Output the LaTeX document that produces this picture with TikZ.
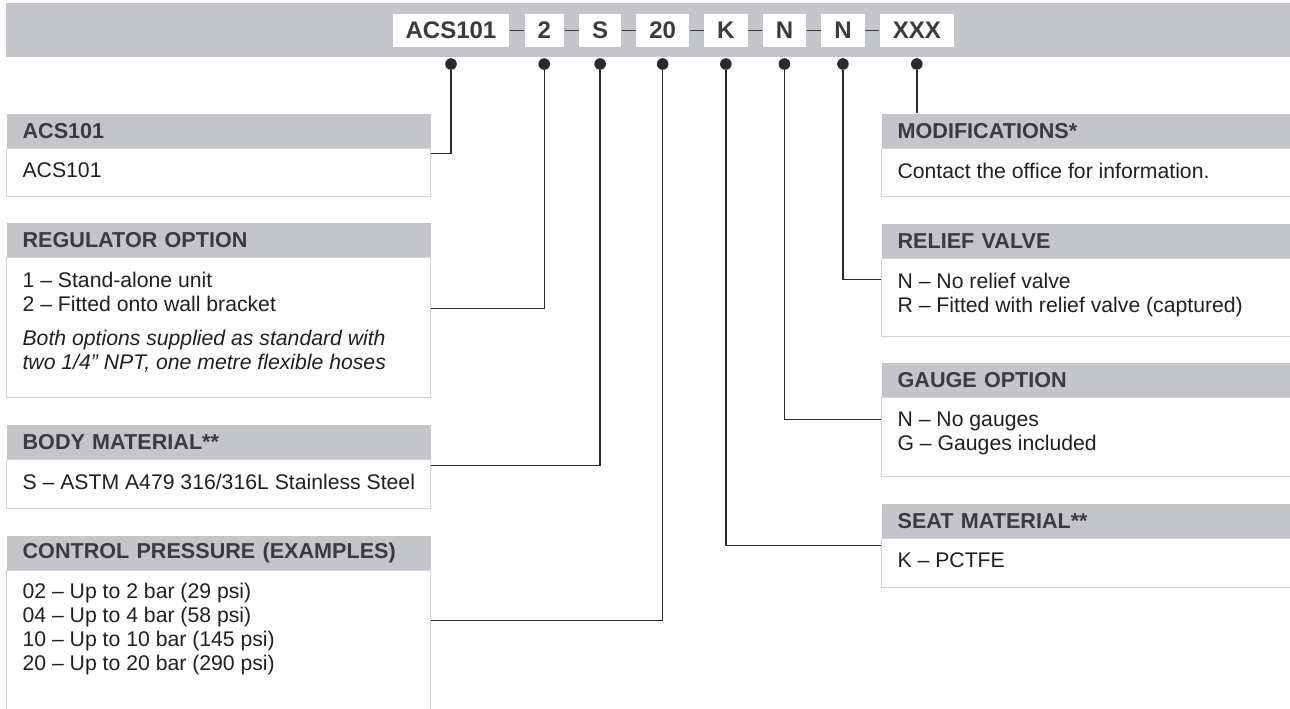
\documentclass[tikz,border=0pt]{standalone}
\usepackage{fontspec}
\setmainfont{Liberation Sans}
\usetikzlibrary{positioning}

\definecolor{bargray}{HTML}{C4C5C9}
\definecolor{linegray}{HTML}{D2D3D5}
\definecolor{headink}{HTML}{3A3A3F}
\definecolor{bodyink}{HTML}{231F20}
\definecolor{wireink}{HTML}{2A2A2D}

\begin{document}
\begin{tikzpicture}[x=0.5pt,y=-0.5pt,node distance=7pt,semithick]
        \tikzstyle{code}=[fill=white, text=headink, font=\fontsize{12}{12}\selectfont\bfseries, minimum height=16.5pt, inner xsep=6.5pt, inner ysep=0pt]
        \tikzstyle{head}=[fill=bargray, text=headink, font=\fontsize{10.8}{12}\selectfont\bfseries, anchor=north west, minimum width=212pt, minimum height=17pt, text width=196pt, inner xsep=8pt, inner ysep=0pt, align=left]
        \tikzstyle{box}=[draw=linegray, line width=0.6pt, fill=white, minimum width=212pt, inner sep=0pt]
        \tikzstyle{item}=[text=bodyink, font=\fontsize{10.6}{12}\selectfont, anchor=north west, align=left, inner xsep=8pt, inner ysep=0pt]
        \tikzstyle{dot}=[circle, fill=wireink, inner sep=0pt, minimum size=5.8pt]
        \tikzstyle{lead}=[draw=wireink, line width=0.7pt]
        \tikzstyle{hyphen}=[draw=headink, line width=0.9pt]

        \useasboundingbox (0,0) rectangle (1290,708);
        \clip (0,0) rectangle (1290,708);
        \fill[bargray] (6,3) rectangle (1290,57);

        % ordering code
        \node[code]                (acs)  at (451,30.5) {ACS101};
        \node[code, right=of acs]  (opt)  {2};
        \node[code, right=of opt]  (mat)  {S};
        \node[code, right=of mat]  (prs)  {20};
        \node[code, right=of prs]  (seat) {K};
        \node[code, right=of seat] (gau)  {N};
        \node[code, right=of gau]  (rel)  {N};
        \node[code, right=of rel]  (mod)  {XXX};

        \foreach \a/\b in {acs/opt,opt/mat,mat/prs,prs/seat,seat/gau,gau/rel,rel/mod}
            \draw[hyphen] (\a) -- (\b);
        \foreach \n in {acs,opt,mat,prs,seat,gau,rel,mod}
            \node[dot, below=5pt of \n] (\n-dot) {};

        % left column
        \node[head] (acshead) at (6,113) {ACS101};
        \node[box, below=0pt of acshead, minimum height=24pt] (acsbox) {};
        \node[item] at ([yshift=-7pt]acsbox.north west) {ACS101};

        \node[head] (reghead) at (6,222) {REGULATOR OPTION};
        \node[box, below=0pt of reghead, minimum height=70pt] (regbox) {};
        \node[item] at ([yshift=-7pt]regbox.north west) {1 -- Stand-alone unit\\2 -- Fitted onto wall bracket\\[5pt]\itshape Both options supplied as standard with\\\itshape two 1/4” NPT, one metre flexible hoses};

        \node[head] (mathead) at (6,424) {BODY MATERIAL**};
        \node[box, below=0pt of mathead, minimum height=24.5pt] (matbox) {};
        \node[item] at ([yshift=-7pt]matbox.north west) {S -- ASTM A479 316/316L Stainless Steel};

        \node[head] (prshead) at (6,535) {CONTROL PRESSURE (EXAMPLES)};
        \node[box, below=0pt of prshead, minimum height=80pt] (prsbox) {};
        \node[item] at ([yshift=-6pt]prsbox.north west) {02 -- Up to 2 bar (29 psi)\\04 -- Up to 4 bar (58 psi)\\10 -- Up to 10 bar (145 psi)\\20 -- Up to 20 bar (290 psi)};

        % right column
        \node[head] (modhead) at (881,113) {MODIFICATIONS*};
        \node[box, below=0pt of modhead, minimum height=24pt] (modbox) {};
        \node[item] at ([yshift=-7pt]modbox.north west) {Contact the office for information.};

        \node[head] (relhead) at (881,223) {RELIEF VALVE};
        \node[box, below=0pt of relhead, minimum height=39pt] (relbox) {};
        \node[item] at ([yshift=-7pt]relbox.north west) {N -- No relief valve\\R -- Fitted with relief valve (captured)};

        \node[head] (gauhead) at (881,362) {GAUGE OPTION};
        \node[box, below=0pt of gauhead, minimum height=39.5pt] (gaubox) {};
        \node[item] at ([yshift=-7pt]gaubox.north west) {N -- No gauges\\G -- Gauges included};

        \node[head] (seathead) at (881,503) {SEAT MATERIAL**};
        \node[box, below=0pt of seathead, minimum height=24.5pt] (seatbox) {};
        \node[item] at ([yshift=-7pt]seatbox.north west) {K -- PCTFE};

        % leader lines
        \draw[lead] (acs-dot)  |- ([yshift=-2.5pt]acsbox.north east);
        \draw[lead] (opt-dot)  |- ([yshift=-25.5pt]regbox.north east);
        \draw[lead] (mat-dot)  |- ([yshift=-3pt]matbox.north east);
        \draw[lead] (prs-dot)  |- ([yshift=-25pt]prsbox.north east);
        \draw[lead] (seat-dot) |- ([yshift=-3.5pt]seatbox.north west);
        \draw[lead] (gau-dot)  |- ([yshift=-11pt]gaubox.north west);
        \draw[lead] (rel-dot)  |- ([yshift=-10.5pt]relbox.north west);
        \draw[lead] (mod-dot)  -- (mod-dot |- modhead.north);
\end{tikzpicture}
\end{document}
